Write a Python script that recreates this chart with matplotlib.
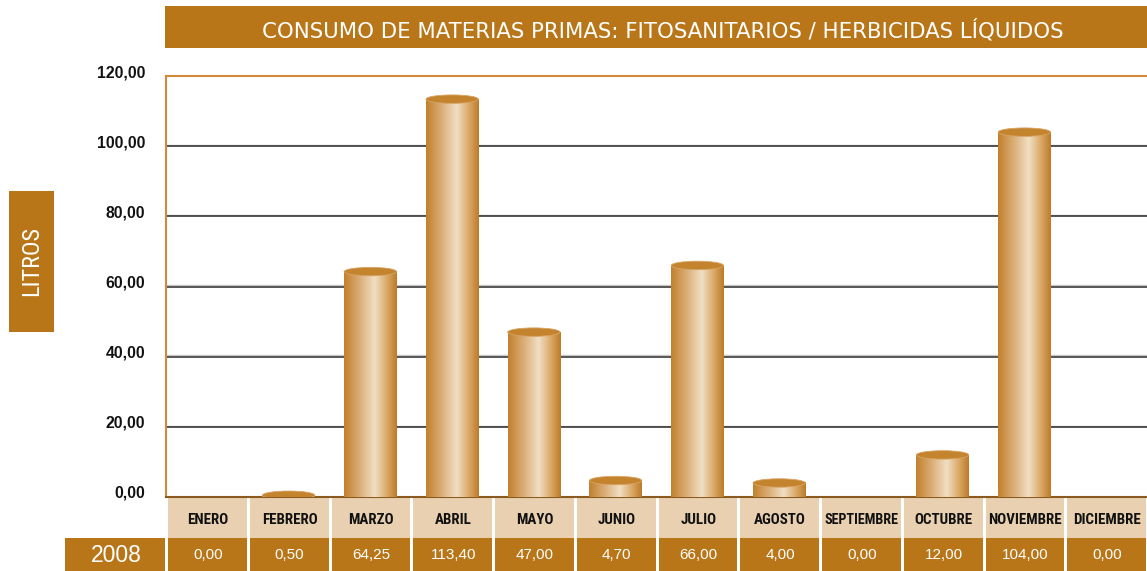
#Gráfica de consumo de herbicidas líquidos 2008
import numpy as np
import matplotlib
matplotlib.use('Agg')
import matplotlib.pyplot as plt
from matplotlib.patches import Rectangle, Ellipse
from matplotlib.colors import LinearSegmentedColormap
from matplotlib import font_manager as fm
import matplotlib.transforms as mtrans

#datos
meses = ['ENERO', 'FEBRERO', 'MARZO', 'ABRIL', 'MAYO', 'JUNIO', 'JULIO',
         'AGOSTO', 'SEPTIEMBRE', 'OCTUBRE', 'NOVIEMBRE', 'DICIEMBRE']
litros = [0.00, 0.50, 64.25, 113.40, 47.00, 4.70, 66.00, 4.00, 0.00, 12.00, 104.00, 0.00]
anio = '2008'
titulo = 'CONSUMO DE MATERIAS PRIMAS: FITOSANITARIOS / HERBICIDAS LÍQUIDOS'
eje_y = 'LITROS'
yticks = [0, 20, 40, 60, 80, 100, 120]

#fuentes
nombres = {f.name for f in fm.fontManager.ttflist}
def elegir(lista):
    for n in lista:
        if n in nombres:
            return n
    return 'DejaVu Sans'
normal = elegir(['Liberation Sans', 'Roboto', 'DejaVu Sans'])
estrecha = elegir(['Liberation Sans Narrow', 'Roboto Condensed', 'Liberation Sans'])

marron = '#b97619'
claro = '#e8d0b0'

W, H = 1147, 571
PL, PR, PT, PB = 166, 1147, 76, 497

fig = plt.figure(figsize=(W/100, H/100), dpi=100)
fig.patch.set_facecolor('white')

#fondo en pixeles
bg = fig.add_axes([0, 0, 1, 1], zorder=0)
bg.set_xlim(0, W)
bg.set_ylim(H, 0)
bg.axis('off')

#barra del título
bg.add_patch(Rectangle((165, 6), W-165, 42, color=marron, lw=0))
bg.text(663, 37.3, titulo, color='white', fontsize=15.3, family='DejaVu Sans',
        ha='center', va='baseline')

#caja LITROS
bg.add_patch(Rectangle((9, 191), 45, 141, color=marron, lw=0))
bg.text(32, 261, eje_y, color='white', fontsize=17.5, family=estrecha,
        rotation=90, ha='center', va='center')

#tabla
cw = (PR - PL) / len(meses)
for i, (mes, v) in enumerate(zip(meses, litros)):
    x0 = PL + i*cw
    bg.add_patch(Rectangle((x0+2, PB+1), cw-3, 40, color=claro, lw=0))
    bg.add_patch(Rectangle((x0+2, 538), cw-3, H-538, color=marron, lw=0))
    bg.text(x0+cw/2+1, 520, mes, fontsize=10.8 if len(mes) < 10 else 10.2,
            weight='bold', family=estrecha,
            color='#111111', ha='center', va='center')
    bg.text(x0+cw/2+1, 555, ('%.2f' % v).replace('.', ','), fontsize=11,
            family=normal, color='white', ha='center', va='center')
bg.add_patch(Rectangle((65, 538), 100, H-538, color=marron, lw=0))
bg.text(116, 555, anio, fontsize=16.5, family=normal, color='white',
        ha='center', va='center')

#gráfica
ax = fig.add_axes([PL/W, (H-PB)/H, (PR-PL)/W, (PB-PT)/H], zorder=1)
ax.patch.set_alpha(0)

grad = LinearSegmentedColormap.from_list('cil', [
    (0.0, '#c2802c'), (0.3, '#dbae78'), (0.58, '#f1dfc4'),
    (0.8, '#dcab6c'), (1.0, '#bd7b27')])
g = np.linspace(0, 1, 256).reshape(1, -1)

x = np.arange(len(meses))
ancho = 0.64
alto_elipse = 2.4
sombra = mtrans.offset_copy(ax.transData, fig=fig, x=0, y=1.2, units='dots')
for yv in yticks[1:-1]:
    ax.plot([-0.5, len(meses)-0.5], [yv, yv], color='#c8c8c8', lw=1.0,
            transform=sombra, zorder=1)
    ax.axhline(yv, color='#2a2a2a', lw=1.1, zorder=2)

for xi, v in zip(x, litros):
    if v <= 0:
        continue
    ax.imshow(g, cmap=grad, extent=[xi-ancho/2, xi+ancho/2, 0, v],
              aspect='auto', zorder=3, interpolation='bilinear')
    ax.add_patch(Ellipse((xi, v), ancho, alto_elipse, facecolor='#c4832d',
                         edgecolor='#d7a363', lw=0.6, zorder=4))

ax.set_xlim(-0.5, len(meses)-0.5)
ax.set_ylim(0, 120)
ax.set_xticks([])
ax.set_yticks(yticks)
ax.set_yticklabels([('%.2f' % t).replace('.', ',') for t in yticks])
ax.tick_params(axis='y', length=0, pad=15)
for lab in ax.get_yticklabels():
    lab.set_fontsize(11.3)
    lab.set_fontweight('bold')
    lab.set_family(normal)
    lab.set_color('#111111')
    lab.set_transform(lab.get_transform() +
                      mtrans.ScaledTranslation(0, 5/100, fig.dpi_scale_trans))
for s in ['left', 'top']:
    ax.spines[s].set_color('#d08a3a')
    ax.spines[s].set_linewidth(1.5)
ax.spines['right'].set_visible(False)
ax.spines['bottom'].set_color('#8a5a20')
ax.spines['bottom'].set_linewidth(1.5)

fig.savefig('out.png', dpi=100)
